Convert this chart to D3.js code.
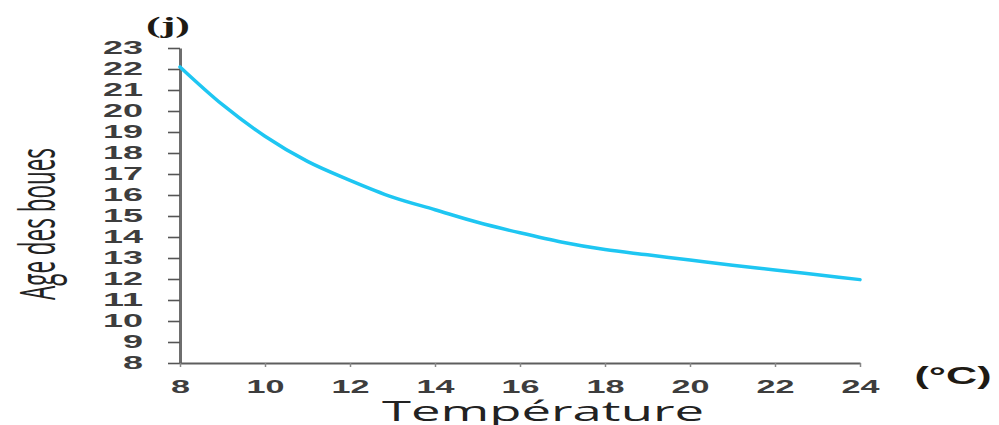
<!DOCTYPE html>
<html>
<head>
<meta charset="utf-8">
<script src="https://cdn.jsdelivr.net/npm/d3@7"></script>
<style>
  html, body { margin: 0; padding: 0; background: #fff; }
  svg { display: block; }
</style>
</head>
<body>
<svg id="chart" width="999" height="425"></svg>
<script>
// ---- data ----
const temperature = [8, 9, 10, 11, 12, 13, 14, 15, 16, 17, 18, 19, 20, 21, 22, 23, 24];
const sludgeAge   = [22.1, 20.3, 18.8, 17.6, 16.7, 15.9, 15.3, 14.7, 14.2, 13.75, 13.4, 13.15, 12.9, 12.65, 12.43, 12.2, 11.97];
const yTicks = [8, 9, 10, 11, 12, 13, 14, 15, 16, 17, 18, 19, 20, 21, 22, 23];
const xTicks = [8, 10, 12, 14, 16, 18, 20, 22, 24];
const yAxisTitle = "Age des boues";
const xAxisTitle = "Température";
const panelLabel = "(j)";
const unitLabel = "(°C)";

const svg = d3.select("#chart");
const x = d3.scaleLinear().domain([8, 24]).range([180, 860]);
const y = d3.scaleLinear().domain([8, 23]).range([363, 48]);

// y axis
const gy = svg.append("g")
  .attr("transform", `translate(${x(8)},0)`)
  .call(d3.axisLeft(y).tickValues(yTicks).tickSize(12).tickPadding(25).tickSizeOuter(0));
gy.select(".domain").attr("stroke", "#6e6e6e").attr("stroke-width", 3);
gy.selectAll(".tick line").attr("stroke", "#555").attr("stroke-width", 1.6);
gy.selectAll(".tick text")
  .attr("font-family", "Liberation Sans, Arial, sans-serif")
  .attr("font-size", 18).attr("font-weight", "bold").attr("fill", "#3d3d3d")
  .attr("textLength", d => String(d).length * 20)
  .attr("lengthAdjust", "spacingAndGlyphs");

// x axis
const gx = svg.append("g")
  .attr("transform", `translate(0,${y(8)})`)
  .call(d3.axisBottom(x).tickValues(xTicks).tickSize(4).tickPadding(13).tickSizeOuter(0));
gx.select(".domain").attr("stroke", "#5e5e5e").attr("stroke-width", 2);
gx.selectAll(".tick line").attr("stroke", "#888").attr("stroke-width", 1.5);
gx.selectAll(".tick text")
  .attr("font-family", "Liberation Sans, Arial, sans-serif")
  .attr("font-size", 18).attr("font-weight", "bold").attr("fill", "#3d3d3d")
  .attr("textLength", d => String(d).length * 19)
  .attr("lengthAdjust", "spacingAndGlyphs");

// curve
const line = d3.line()
  .x((d, i) => x(temperature[i]))
  .y(d => y(d))
  .curve(d3.curveMonotoneX);
svg.append("path")
  .datum(sludgeAge)
  .attr("d", line)
  .attr("fill", "none")
  .attr("stroke", "#1ec6f2")
  .attr("stroke-width", 3.5)
  .attr("stroke-linecap", "round");

// texts
svg.append("text")
  .attr("x", 168).attr("y", 33)
  .attr("text-anchor", "middle")
  .attr("font-family", "Liberation Serif, Times New Roman, serif")
  .attr("font-size", 24).attr("font-weight", "bold").attr("fill", "#1e1a14")
  .attr("textLength", 44).attr("lengthAdjust", "spacingAndGlyphs")
  .text(panelLabel);

svg.append("text")
  .attr("x", 953).attr("y", 384)
  .attr("text-anchor", "middle")
  .attr("font-family", "Liberation Sans, Arial, sans-serif")
  .attr("font-size", 24).attr("font-weight", "bold").attr("fill", "#1e1a14")
  .attr("textLength", 77).attr("lengthAdjust", "spacingAndGlyphs")
  .text(unitLabel);

svg.append("text")
  .attr("x", 543).attr("y", 421)
  .attr("text-anchor", "middle")
  .attr("font-family", "Open Sans, Liberation Sans, sans-serif")
  .attr("font-size", 27).attr("fill", "#222")
  .attr("textLength", 322).attr("lengthAdjust", "spacingAndGlyphs")
  .text(xAxisTitle);

svg.append("text")
  .attr("transform", "translate(55,224) rotate(-90)")
  .attr("text-anchor", "middle")
  .attr("font-family", "Open Sans, Liberation Sans, sans-serif")
  .attr("font-size", 50).attr("fill", "#222")
  .attr("textLength", 152).attr("lengthAdjust", "spacingAndGlyphs")
  .text(yAxisTitle);
</script>
</body>
</html>
